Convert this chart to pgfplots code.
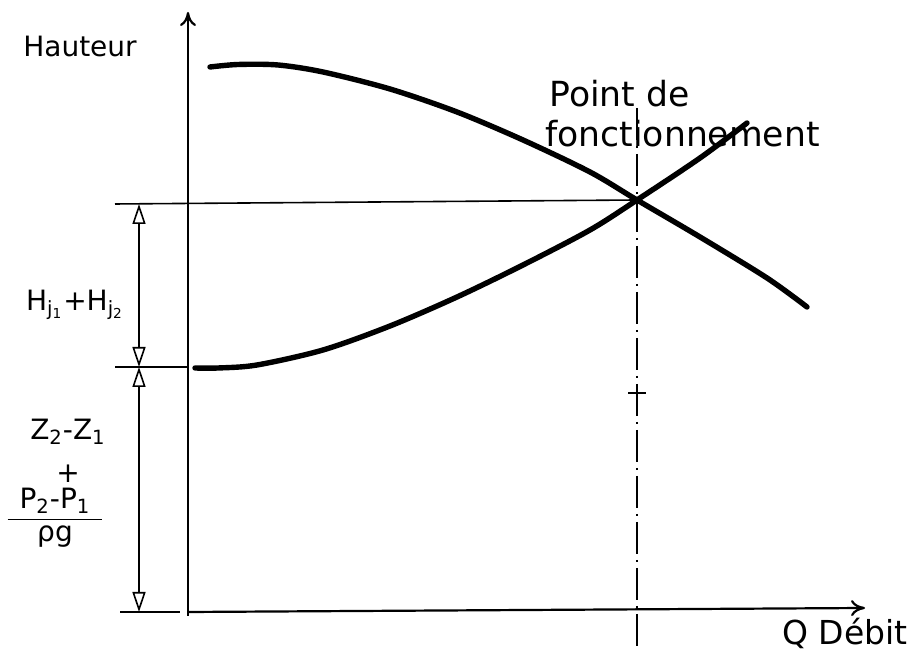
\documentclass[border=0pt]{standalone}
\usepackage{pgfplots}
\pgfplotsset{compat=1.18}
\usepackage{fontspec}
\setmainfont{DejaVu Sans}
\usetikzlibrary{arrows.meta}
\begin{document}
\begin{tikzpicture}
\begin{axis}[width=457pt, height=325.5pt, scale only axis,
  xmin=-188, xmax=726, ymin=-39, ymax=612,
  axis lines=none, clip=false]
\path (rel axis cs:0,0) rectangle (rel axis cs:1,1);
% pump curve
\addplot[black, line width=2.7pt, smooth, tension=0.5, line cap=round] coordinates {
(22,545) (50,547.5) (90,547) (135,540) (202,523) (269,500) (335,472) (402,440)
(449,412) (512,375) (579,334) (619,305)};
% system curve
\addplot[black, line width=2.7pt, smooth, tension=0.5, line cap=round] coordinates {
(7,244) (30,244) (69,247) (135,262) (202,286) (269,315) (335,347)
(402,382) (449,412) (512,454) (559,489)};
% axes
\draw[line width=1.1pt, -{To[length=7pt,width=8pt]}] (axis cs:0,-4) -- (axis cs:0,600);
\draw[line width=1.1pt, -{To[length=7pt,width=8pt]}] (axis cs:0,0) -- (axis cs:677,4);
% reference lines
\draw[line width=0.8pt] (axis cs:-73,408) -- (axis cs:449,412);
\draw[line width=0.8pt] (axis cs:-73,245) -- (axis cs:0,245);
\draw[line width=0.8pt] (axis cs:-68,0) -- (axis cs:-8,0);
\draw[line width=0.9pt, dash pattern=on 16pt off 3pt on 1pt off 3pt] (axis cs:449,504) -- (axis cs:449,-36);
\draw[line width=0.8pt] (axis cs:440,219) -- (axis cs:458,219);
% dimension lines
\draw[line width=0.8pt, {Triangle[open,length=10pt,width=6.5pt]}-{Triangle[open,length=10pt,width=6.5pt]}] (axis cs:-49,408) -- (axis cs:-49,245);
\draw[line width=0.8pt, {Triangle[open,length=10pt,width=6.5pt]}-{Triangle[open,length=10pt,width=6.5pt]}] (axis cs:-49,245) -- (axis cs:-49,0);
% labels
\node[font=\fontsize{14}{16}\selectfont] at (axis cs:-108,565) {Hauteur};
\node[font=\fontsize{17.3}{20}\selectfont, align=left, anchor=north west, inner sep=0pt] at (axis cs:357,532) {\hspace*{2pt}Point de\\fonctionnement};
\node[font=\fontsize{16.5}{19}\selectfont, anchor=base west, inner sep=0pt] at (axis cs:594,-33) {Q Débit};
\node[font=\fontsize{14}{16}\selectfont] at (axis cs:-113,307) {H\textsubscript{j\textsubscript{1}}+H\textsubscript{j\textsubscript{2}}};
\node[font=\fontsize{14}{16}\selectfont] at (axis cs:-120,180) {Z\textsubscript{2}-Z\textsubscript{1}};
\node[font=\fontsize{14}{16}\selectfont] at (axis cs:-120,138) {+};
\node[font=\fontsize{14}{16}\selectfont, inner sep=0pt] at (axis cs:-133,93) {\begin{tabular}{@{\hspace{6pt}}c@{\hspace{6pt}}}P\textsubscript{2}-P\textsubscript{1}\\\hline ρg\end{tabular}};
\end{axis}
\end{tikzpicture}
\end{document}
